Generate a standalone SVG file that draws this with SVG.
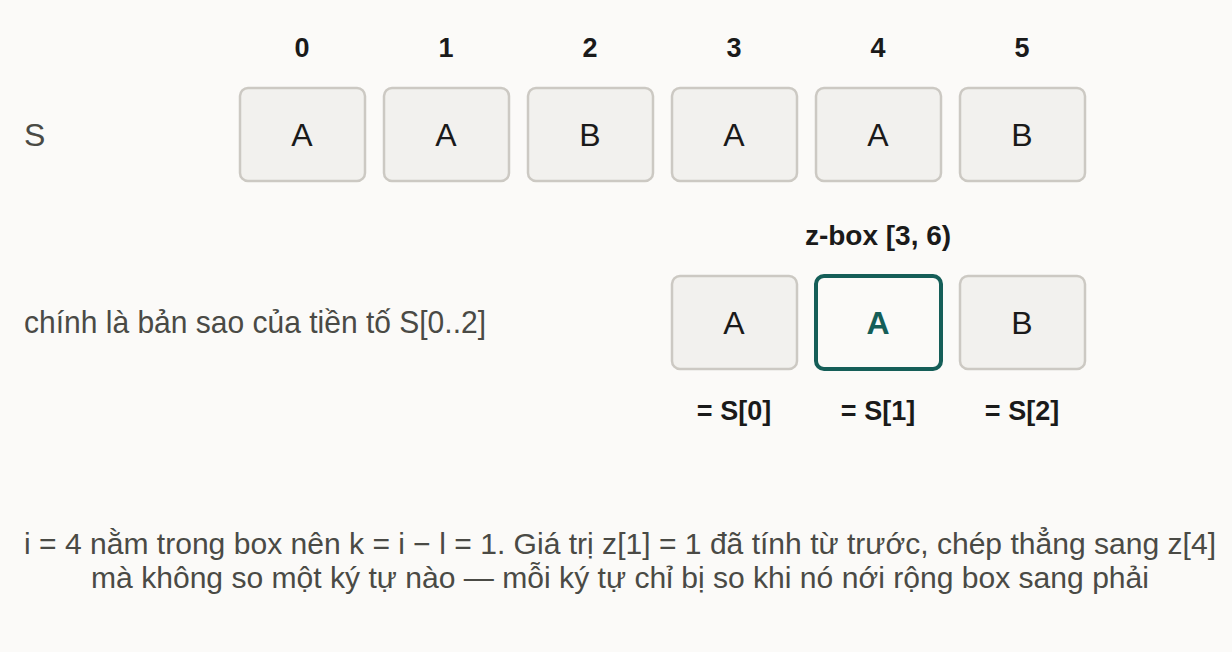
<svg xmlns="http://www.w3.org/2000/svg" width="1232" height="652" viewBox="0 0 1232 652">
<style>
.bg{fill:#fbfaf8}
.box{fill:#f2f1ee;stroke:#ccc9c3;stroke-width:2.5}
.hl{fill:#fbfaf8;stroke:#155e58;stroke-width:4}
text{font-family:"Liberation Sans",Arial,sans-serif}
.idx{font-size:27px;font-weight:bold;fill:#1a1a1a;text-anchor:middle}
.ch{font-size:32px;fill:#1a1a1a;text-anchor:middle}
.chh{font-size:32px;font-weight:bold;fill:#155e58;text-anchor:middle}
.lbl{font-size:32px;fill:#4a4a45}
.eq{font-size:27px;font-weight:bold;fill:#1a1a1a;text-anchor:middle}
.note{font-size:29px;fill:#4a4a45;text-anchor:middle}
</style>
<rect class="bg" x="0" y="0" width="1232" height="652"/>
<g id="indices">
<text class="idx" x="302" y="57">0</text>
<text class="idx" x="446" y="57">1</text>
<text class="idx" x="590" y="57">2</text>
<text class="idx" x="734" y="57">3</text>
<text class="idx" x="878" y="57">4</text>
<text class="idx" x="1022" y="57">5</text>
</g>
<text class="lbl" x="24" y="146">S</text>
<g id="s0"><rect class="box" x="240" y="88" width="125" height="93" rx="8"/><text class="ch" x="302" y="146">A</text></g>
<g id="s1"><rect class="box" x="384" y="88" width="125" height="93" rx="8"/><text class="ch" x="446" y="146">A</text></g>
<g id="s2"><rect class="box" x="528" y="88" width="125" height="93" rx="8"/><text class="ch" x="590" y="146">B</text></g>
<g id="s3"><rect class="box" x="672" y="88" width="125" height="93" rx="8"/><text class="ch" x="734" y="146">A</text></g>
<g id="s4"><rect class="box" x="816" y="88" width="125" height="93" rx="8"/><text class="ch" x="878" y="146">A</text></g>
<g id="s5"><rect class="box" x="960" y="88" width="125" height="93" rx="8"/><text class="ch" x="1022" y="146">B</text></g>
<text class="idx" x="878" y="245" style="font-size:28px">z-box [3, 6)</text>
<text class="lbl" x="24" y="333" textLength="462" lengthAdjust="spacingAndGlyphs">chính là bản sao của tiền tố S[0..2]</text>
<g id="z3"><rect class="box" x="672" y="276" width="125" height="93" rx="8"/><text class="ch" x="734" y="334">A</text></g>
<g id="z4"><rect class="hl" x="816" y="276" width="125" height="93" rx="8"/><text class="chh" x="878" y="334">A</text></g>
<g id="z5"><rect class="box" x="960" y="276" width="125" height="93" rx="8"/><text class="ch" x="1022" y="334">B</text></g>
<g id="eqs">
<text class="eq" x="734" y="420">= S[0]</text>
<text class="eq" x="878" y="420">= S[1]</text>
<text class="eq" x="1022" y="420">= S[2]</text>
</g>
<g id="connectors"/>
<text class="note" x="620" y="554" textLength="1192" lengthAdjust="spacingAndGlyphs">i = 4 nằm trong box nên k = i − l = 1. Giá trị z[1] = 1 đã tính từ trước, chép thẳng sang z[4]</text>
<text class="note" x="620" y="588" textLength="1058" lengthAdjust="spacingAndGlyphs">mà không so một ký tự nào — mỗi ký tự chỉ bị so khi nó nới rộng box sang phải</text>
</svg>
